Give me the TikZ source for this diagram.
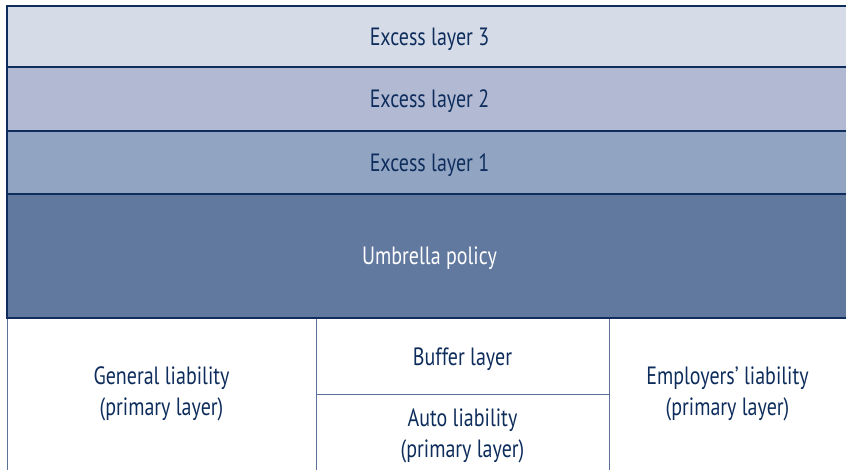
\documentclass[tikz,border=0pt]{standalone}
\usepackage{fontspec}
\setmainfont{PT Sans}[FakeStretch=0.8]
\usetikzlibrary{positioning}
\definecolor{navy}{HTML}{0E2D5C}
\definecolor{layerthree}{HTML}{D5DCE8}
\definecolor{layertwo}{HTML}{B1B9D3}
\definecolor{layerone}{HTML}{91A5C3}
\definecolor{umbrellablue}{HTML}{61789F}
\definecolor{rulegray}{HTML}{5B7198}

\begin{document}
\begin{tikzpicture}[
x=1pt, y=1pt,
font=\fontsize{25}{31}\selectfont,
layer/.style={draw=navy, line width=1.4pt, text=navy, minimum width=845pt, text depth=0pt, inner sep=0pt, outer sep=0pt},
cell/.style={text=navy, align=center, inner sep=0pt, outer sep=0pt},
divider/.style={draw=rulegray, line width=1pt, shorten <=0.7pt}
]
    \useasboundingbox (0,0) rectangle (846,470);

    % Draw excess layers and umbrella
    \node[layer, fill=layerthree, minimum height=61pt, anchor=north west] (ex3) at (7,464) {Excess layer 3};
    \node[layer, fill=layertwo, minimum height=64pt, below right=0pt and 0pt of ex3.south west] (ex2) {Excess layer 2};
    \node[layer, fill=layerone, minimum height=63pt, below right=0pt and 0pt of ex2.south west] (ex1) {Excess layer 1};
    \node[layer, fill=umbrellablue, text=white, minimum height=124pt, below right=0pt and 0pt of ex1.south west] (umb) {Umbrella policy};

    % Primary layers
    \node[cell, minimum width=309pt, minimum height=152pt, below right=0pt and 0pt of umb.south west] (gen) {General liability\\(primary layer)};
    \node[cell, minimum width=293pt, minimum height=77pt, text depth=0pt, below right=0pt and 0pt of gen.north east] (buf) {Buffer layer};
    \node[cell, minimum width=293pt, minimum height=75pt, below right=0pt and 0pt of buf.south west] (auto) {\raisebox{-10pt}[0pt][0pt]{\begin{tabular}{@{}c@{}}Auto liability\\(primary layer)\end{tabular}}};
    \node[cell, minimum width=237pt, minimum height=152pt, below right=0pt and 0pt of buf.north east] (emp) {Employers’ liability\\(primary layer)};

    \draw[divider] (gen.north west) -- (gen.south west);
    \draw[divider] (gen.north east) -- (gen.south east);
    \draw[divider, shorten <=0pt] (buf.south west) -- (buf.south east);
    \draw[divider] (emp.north west) -- (emp.south west);

\end{tikzpicture}
\end{document}
